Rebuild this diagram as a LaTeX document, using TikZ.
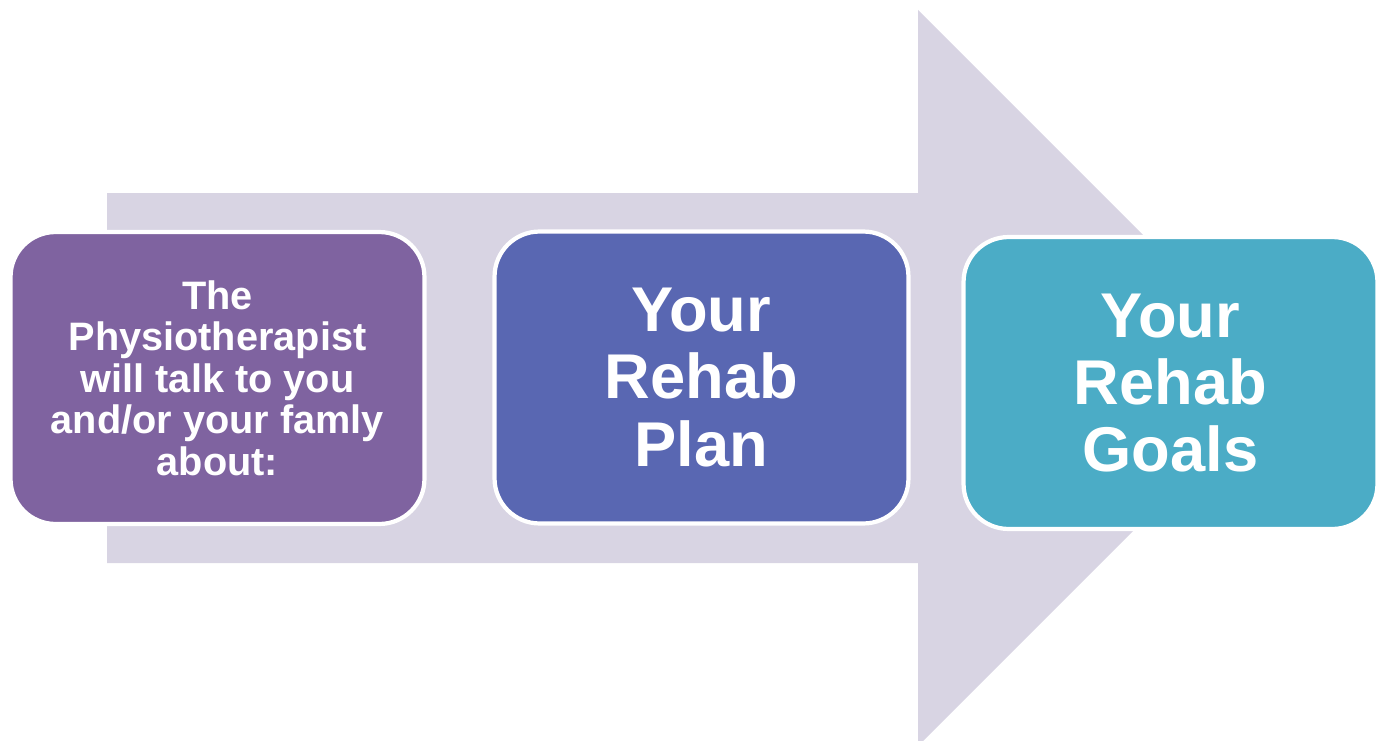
\documentclass[tikz,border=0pt]{standalone}
\usepackage{fontspec}
\setmainfont{Liberation Sans}
\definecolor{pfeil}{HTML}{D8D4E3}
\definecolor{lila}{HTML}{7F63A0}
\definecolor{blau}{HTML}{5967B2}
\definecolor{tuerkis}{HTML}{4BACC6}
\tikzset{
  kasten/.style={draw=white, line width=2.4pt, rounded corners=0.9cm, text=white,
    align=center, minimum width=8.28cm, minimum height=5.84cm, inner sep=0pt},
  klein/.style={font=\bfseries\fontsize{22.6}{23.6}\selectfont},
  gross/.style={font=\bfseries\fontsize{36}{38.2}\selectfont}
}
\begin{document}
\begin{tikzpicture}[x=0.02cm, y=-0.02cm]
	\useasboundingbox (0,0) rectangle (1382,740);
	\clip (0,0) rectangle (1382,740); % Pfeilspitze unten abschneiden
	
	\fill[pfeil] (107,193) -- (918,193) -- (918,10) -- (1286,378) -- (918,746) -- (918,563) -- (107,563) -- cycle;
	
	\node[kasten, klein, fill=lila] (physio) at (217.5,378) {The\\Physiotherapist\\will talk to you\\and/or your famly\\about:};
	\node[kasten, gross, fill=blau] (plan) at (701.5,377.5) {Your\\Rehab\\Plan};
	\node[kasten, gross, fill=tuerkis] (ziele) at (1170.5,383) {Your\\Rehab\\Goals};
	
	%\draw[help lines, step=100] (0,0) grid (1382,740);
\end{tikzpicture}
\end{document}
